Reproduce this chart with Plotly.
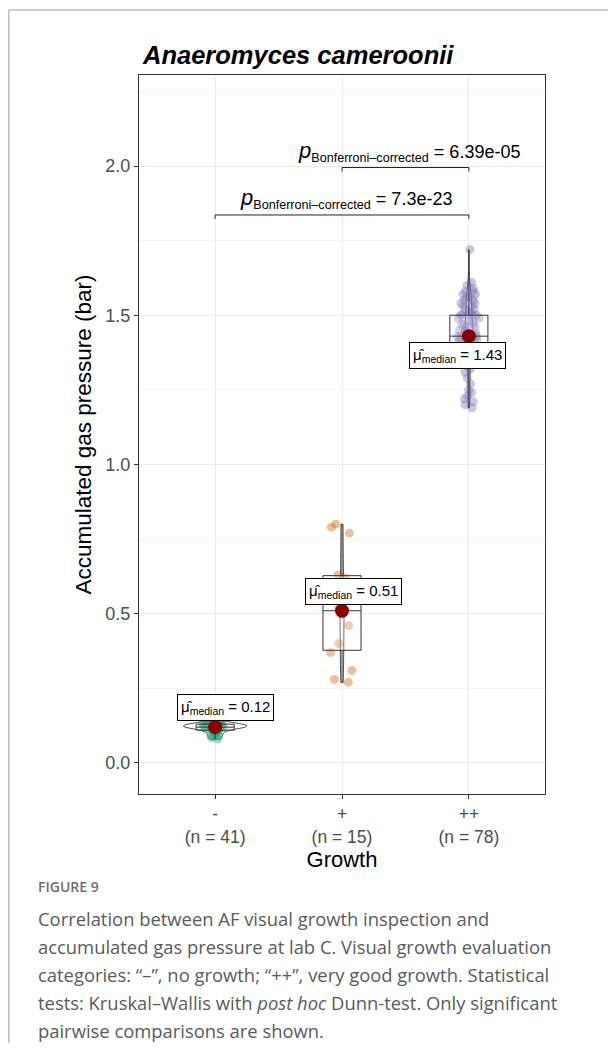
import numpy as np
import plotly.graph_objects as go

# ---------------- data ----------------
categories = ["-", "+", "++"]
cat_pos = [1, 2, 3]
colors = ["#1B9E77", "#D95F02", "#7570B3"]

growth_none = [0.08, 0.085, 0.09, 0.09, 0.095, 0.10, 0.10, 0.105, 0.11, 0.11,
               0.11, 0.115, 0.115, 0.115, 0.12, 0.12, 0.12, 0.12, 0.12, 0.12,
               0.12, 0.12, 0.12, 0.125, 0.125, 0.125, 0.125, 0.125, 0.125, 0.13,
               0.13, 0.13, 0.13, 0.13, 0.13, 0.13, 0.135, 0.135, 0.135, 0.14, 0.14]
growth_plus = [0.27, 0.28, 0.31, 0.37, 0.40, 0.46, 0.50, 0.51, 0.52, 0.56,
               0.62, 0.63, 0.77, 0.79, 0.80]
growth_plusplus = [1.19, 1.20, 1.21, 1.22, 1.23, 1.24, 1.25, 1.27,
                   1.29, 1.31, 1.32, 1.33, 1.34, 1.35, 1.35, 1.36, 1.36, 1.36, 1.37, 1.37,
                   1.38, 1.38, 1.39, 1.39, 1.40, 1.40, 1.40, 1.41, 1.41, 1.41, 1.42, 1.42,
                   1.42, 1.42, 1.43, 1.43, 1.43, 1.43, 1.43,
                   1.43, 1.44, 1.44, 1.45, 1.45, 1.45, 1.46, 1.46, 1.47, 1.47, 1.47, 1.48,
                   1.48, 1.49, 1.49, 1.50, 1.50, 1.50, 1.50,
                   1.50, 1.51, 1.52, 1.52, 1.53, 1.53, 1.54, 1.54, 1.55, 1.55, 1.56, 1.56,
                   1.57, 1.57, 1.58, 1.58, 1.59, 1.60, 1.61, 1.72]
groups = [growth_none, growth_plus, growth_plusplus]

comparisons = [(1, 3, "7.3e-23"), (2, 3, "6.39e-05")]
bracket_levels = [1.836, 1.995]

title_text = "Anaeromyces cameroonii"
y_title = "Accumulated gas pressure (bar)"
x_title = "Growth"
caption_head = "FIGURE 9"
caption_lines = [
    "Correlation between AF visual growth inspection and",
    "accumulated gas pressure at lab C. Visual growth evaluation",
    "categories: \u201c\u2013\u201d, no growth; \u201c++\u201d, very good growth. Statistical",
    "tests: Kruskal\u2013Wallis with <i>post hoc</i> Dunn-test. Only significant",
    "pairwise comparisons are shown.",
]

# ---------------- layout geometry (page pixels) ----------------
OFF = 8                       # default body margin of the html page
WIN_W, WIN_H = 616, 1051
W, H = WIN_W - 2 * OFF, WIN_H - 2 * OFF
L, R, T, B = 139, 545, 75, 794   # plot box in page pixels


def px(x):
    return (x - L) / (R - L)


def py(y):
    return (B - y) / (B - T)


FONT = "Liberation Sans, Arial, sans-serif"

fig = go.Figure()

# jittered points (plotly's own box-point jitter)
for pos, vals, col, cat in zip(cat_pos, groups, colors, categories):
    fig.add_trace(go.Box(
        x=[pos] * len(vals), y=vals, boxpoints="all", jitter=0.7, pointpos=0,
        width=0.3, fillcolor="rgba(0,0,0,0)", line=dict(color="rgba(0,0,0,0)", width=0),
        marker=dict(color=col, opacity=0.4, size=9, line=dict(width=0)),
        showlegend=False, hoverinfo="skip", name=cat + "pts"))

# boxplots
for pos, vals, cat in zip(cat_pos, groups, categories):
    fig.add_trace(go.Box(
        x=[pos] * len(vals), y=vals, boxpoints=False, width=0.3, whiskerwidth=0,
        quartilemethod="linear",
        fillcolor="rgba(255,255,255,0.2)", line=dict(color="#333333", width=1),
        showlegend=False, hoverinfo="skip", name=cat + "box"))


def nrd0(v):
    v = np.asarray(v, float)
    iqr = np.subtract(*np.percentile(v, [75, 25]))
    s = min(np.std(v, ddof=1), iqr / 1.34)
    return 0.9 * s * len(v) ** (-0.2)


def kde_peak(v, bw):
    v = np.asarray(v, float)
    grid = np.linspace(v.min(), v.max(), 512)
    d = np.exp(-0.5 * ((grid[:, None] - v[None, :]) / bw) ** 2).sum(1)
    d /= (len(v) * bw * np.sqrt(2 * np.pi))
    return d.max()


bws = [nrd0(v) for v in groups]
peaks = [kde_peak(v, b) for v, b in zip(groups, bws)]
vmax = max(peaks)

# violins (area-scaled like ggplot: width proportional to peak density)
for pos, vals, cat, bw, pk in zip(cat_pos, groups, categories, bws, peaks):
    fig.add_trace(go.Violin(
        x=[pos] * len(vals), y=vals, points=False, width=0.5 * pk / vmax,
        spanmode="hard", bandwidth=bw, scalegroup=cat + "v", scalemode="width",
        fillcolor="rgba(255,255,255,0.2)", line=dict(color="#222222", width=0.8),
        box_visible=False, meanline_visible=False,
        showlegend=False, hoverinfo="skip", name=cat + "vio"))

medians = [float(np.median(v)) for v in groups]
fig.add_trace(go.Scatter(
    x=cat_pos, y=medians, mode="markers",
    marker=dict(color="#8B0000", size=14), showlegend=False, hoverinfo="skip"))

annotations = []
label_shift = [(10, 20), (11, 19), (-11, -19)]
for pos, m, (xs, ys) in zip(cat_pos, medians, label_shift):
    annotations.append(dict(
        x=pos, y=m, xref="x", yref="y", xshift=xs, yshift=ys, showarrow=False,
        text="\u03bc\u0302<sub>median</sub> = %.2f" % m,
        font=dict(family=FONT, size=15, color="black"),
        bgcolor="white", bordercolor="black", borderwidth=1, borderpad=3))

shapes = []
for (a, b, ptxt), lvl in zip(comparisons, bracket_levels):
    tick = 0.013
    shapes.append(dict(type="line", xref="x", yref="y", x0=a, x1=b, y0=lvl, y1=lvl,
                       line=dict(color="#222", width=1)))
    shapes.append(dict(type="line", xref="x", yref="y", x0=a, x1=a, y0=lvl, y1=lvl - tick,
                       line=dict(color="#222", width=1)))
    shapes.append(dict(type="line", xref="x", yref="y", x0=b, x1=b, y0=lvl, y1=lvl - tick,
                       line=dict(color="#222", width=1)))
    annotations.append(dict(
        x=(a + b) / 2 + 0.03, y=lvl, xref="x", yref="y", yanchor="bottom", yshift=1,
        showarrow=False,
        text="<span style='font-size:22px'><i>p</i></span><sub>Bonferroni\u2013corrected</sub> = " + ptxt,
        font=dict(family=FONT, size=18, color="black")))

# title
annotations.append(dict(x=px(140), y=py(55), xref="paper", yref="paper", xanchor="left",
                        yanchor="middle", showarrow=False,
                        text="<b><i>" + title_text + "</i></b>",
                        font=dict(family=FONT, size=25.5, color="black")))

# caption
CAP_FONT = "Open Sans, Lato, sans-serif"
annotations.append(dict(x=px(36), y=py(886), xref="paper", yref="paper", xanchor="left",
                        yanchor="middle", showarrow=False, text=caption_head,
                        font=dict(family=CAP_FONT, size=14, color="#6D6E71", weight=600)))
for i, line in enumerate(caption_lines):
    annotations.append(dict(x=px(36), y=py(918 + 28.2 * i), xref="paper", yref="paper",
                            xanchor="left", yanchor="middle", showarrow=False, text=line,
                            font=dict(family=CAP_FONT, size=18.4, color="#5A5B5D")))

# page frame lines
shapes.append(dict(type="line", xref="paper", yref="paper", x0=px(8.75), x1=px(616),
                   y0=py(10), y1=py(10), line=dict(color="#BDBDBD", width=1.5)))
shapes.append(dict(type="line", xref="paper", yref="paper", x0=px(8.75), x1=px(8.75),
                   y0=py(10), y1=py(1051), line=dict(color="#BDBDBD", width=1.5)))

ticktext = ["%s<br>(n = %d)" % (c, len(v)) for c, v in zip(categories, groups)]

fig.update_layout(
    width=W, height=H,
    margin=dict(l=L - OFF, r=W - (R - OFF), t=T - OFF, b=H - (B - OFF), autoexpand=False),
    paper_bgcolor="white", plot_bgcolor="white",
    boxmode="overlay", violinmode="overlay",
    annotations=annotations, shapes=shapes, showlegend=False,
    xaxis=dict(range=[0.4, 3.6], tickvals=cat_pos, ticktext=ticktext,
               ticks="outside", ticklen=4, tickcolor="#333333", tickwidth=1,
               showline=True, mirror=True, linecolor="#333333", linewidth=1,
               showgrid=True, gridcolor="#EBEBEB", gridwidth=1, zeroline=False,
               tickfont=dict(family=FONT, size=17.5, color="#4D4D4D"),
               title=dict(text=x_title, font=dict(family=FONT, size=22, color="black"),
                          standoff=0)),
    yaxis=dict(range=[-0.104, 2.305], tickvals=[0, 0.5, 1.0, 1.5, 2.0],
               ticktext=["0.0", "0.5", "1.0", "1.5", "2.0"],
               ticks="outside", ticklen=4, tickcolor="#333333", tickwidth=1,
               showline=True, mirror=True, linecolor="#333333", linewidth=1,
               showgrid=True, gridcolor="#EBEBEB", gridwidth=1, zeroline=False,
               minor=dict(tickvals=[0.25, 0.75, 1.25, 1.75, 2.25], showgrid=True,
                          gridcolor="#F4F4F4", gridwidth=1, ticks=""),
               tickfont=dict(family=FONT, size=18, color="#4D4D4D"),
               title=dict(text=y_title, font=dict(family=FONT, size=22.5, color="black"),
                          standoff=7)),
)

fig.write_html("out.html")
